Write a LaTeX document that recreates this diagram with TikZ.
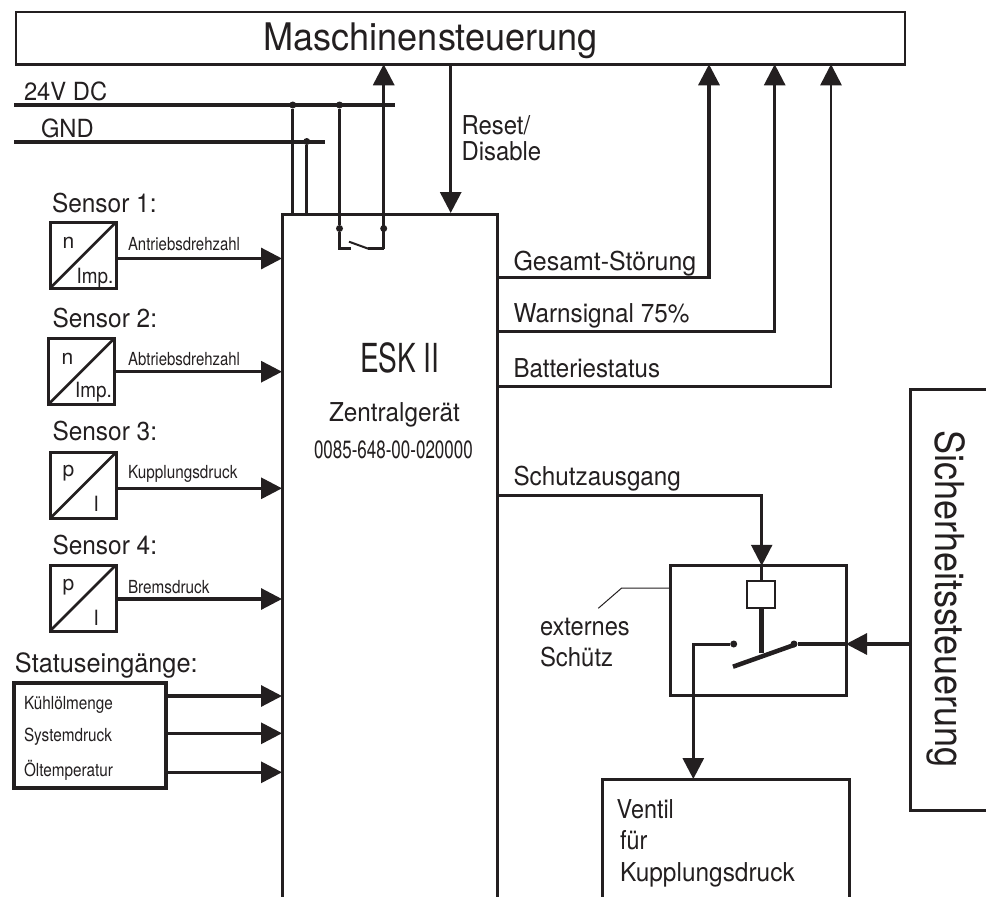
\documentclass[tikz,border=0pt]{standalone}
\usepackage{fontspec}
\setmainfont{TeX Gyre Heros}
\usetikzlibrary{arrows.meta}
\newcommand{\T}[3]{\fontsize{#1}{#1}\selectfont\scalebox{#2}[1]{#3}}
\definecolor{ink}{HTML}{231F20}
\tikzset{
  x=1pt,y=-1pt,
  wire/.style={line width=3.2pt,draw=ink},
  arr/.style={line width=3.2pt,draw=ink,-{Triangle[length=21pt,width=21pt,fill=ink]}},
  arrthin/.style={line width=2.6pt,draw=ink,-{Triangle[length=21pt,width=21pt,fill=ink]}},
  boxn/.style={draw=ink,fill=white,inner sep=0pt,outer sep=0pt},
  sbox/.style={boxn,line width=3pt,minimum width=66pt,minimum height=66pt},
  txt/.style={anchor=base west,inner sep=0pt,outer sep=0pt,text=ink},
  dot/.style={circle,fill=ink,inner sep=0pt,minimum size=7pt},
}
\begin{document}
\begin{tikzpicture}
\useasboundingbox (0,0) rectangle (986,897);

% Maschinensteuerung
\node[boxn,line width=2.5pt,minimum width=889pt,minimum height=52.5pt] (mbox) at (460.5,38) {};
\node[txt] (mtext) at (263.5,50.5) {\T{38}{0.95}{Maschinensteuerung}};

% supply rails
\coordinate (v1) at (14,105); \coordinate (v2) at (395,105);
\coordinate (g1) at (14,142); \coordinate (g2) at (325,142);
\draw[wire] (v1) -- (v2);
\draw[wire] (g1) -- (g2);
\node[txt] (t24) at (24,100) {\T{25}{0.95}{24V DC}};
\node[txt] (tgnd) at (41,137) {\T{25}{0.95}{GND}};

% ESK II main unit (open at the bottom)
\coordinate (eb1) at (282,897); \coordinate (etl) at (282,214);
\coordinate (etr) at (497.5,214); \coordinate (eb2) at (497.5,897);
\draw[line width=3pt,draw=ink] (eb1) -- (etl) -- (etr) -- (eb2);

% supply drops
\node[dot] (j1) at (292.7,105) {};
\node[dot] (j2) at (339.5,105) {};
\node[dot] (j3) at (306.7,141.5) {};
\draw[wire] (j1) -- (j1 |- etl);
\draw[wire] (j3) -- (j3 |- etl);

% internal switch
\node[dot] (sa) at (339.5,228.5) {};
\node[dot] (sb) at (383.7,228.5) {};
\coordinate (sw1) at (350.7,248.7); \coordinate (sw2) at (368.3,248.7);
\draw[wire] (j2) -- (sa) -- (sa |- sw1) -- (sw1);
\draw[line width=2pt,draw=ink] (349,241.7) -- (sw2);
\draw[wire] (sw2) -- (sb |- sw2);
\draw[arr] (sb |- sw2) -- (sb |- mbox.south);

% reset
\coordinate (rst) at (450.7,213);
\draw[arr] (rst |- mbox.south) -- (rst);
\node[txt] (tr) at (461.5,134) {\T{26}{0.92}{Reset/}};
\node[txt] (td) at (461.5,160.7) {\T{26}{0.92}{Disable}};

% sensors
\node[txt] (ts1) at (52,212) {\T{26}{0.94}{Sensor 1:}};
\node[sbox] (s1) at (83.2,255) {};
\draw[line width=2.6pt,draw=ink] (s1.south west) -- (s1.north east);
\node[txt] (s1a) at (62.5,248) {\T{21}{1}{n}};
\node[txt] (s1b) at (76.5,283.5) {\T{21}{0.9}{Imp.}};
\node[txt] (l1) at (128,250.7) {\T{18}{0.83}{Antriebsdrehzahl}};
\coordinate (a1) at (282,258.5);
\draw[arr] (s1.east |- a1) -- (a1);

\node[txt] (ts2) at (52.5,327) {\T{26}{0.94}{Sensor 2:}};
\node[sbox] (s2) at (81.7,371) {};
\draw[line width=2.6pt,draw=ink] (s2.south west) -- (s2.north east);
\node[txt] (s2a) at (61.5,364) {\T{21}{1}{n}};
\node[txt] (s2b) at (75,397) {\T{21}{0.9}{Imp.}};
\node[txt] (l2) at (128,365) {\T{18}{0.83}{Abtriebsdrehzahl}};
\coordinate (a2) at (282,371.7);
\draw[arr] (s2.east |- a2) -- (a2);

\node[txt] (ts3) at (52.5,440) {\T{26}{0.94}{Sensor 3:}};
\node[sbox] (s3) at (83,485.5) {};
\draw[line width=2.6pt,draw=ink] (s3.south west) -- (s3.north east);
\node[txt] (s3a) at (62.5,476.7) {\T{21}{1}{p}};
\node[txt] (s3b) at (93.5,511.7) {\T{21}{0.9}{I}};
\node[txt] (l3) at (128,478) {\T{18}{0.85}{Kupplungsdruck}};
\coordinate (a3) at (282,488.3);
\draw[arr] (s3.east |- a3) -- (a3);

\node[txt] (ts4) at (52.5,554) {\T{26}{0.94}{Sensor 4:}};
\node[sbox] (s4) at (83,598) {};
\draw[line width=2.6pt,draw=ink] (s4.south west) -- (s4.north east);
\node[txt] (s4a) at (62.5,590) {\T{21}{1}{p}};
\node[txt] (s4b) at (93.5,625) {\T{21}{0.9}{I}};
\node[txt] (l4) at (128,593) {\T{18}{0.85}{Bremsdruck}};
\coordinate (a4) at (282,599);
\draw[arr] (s4.east |- a4) -- (a4);

% status inputs
\node[txt] (tstat) at (15,672.7) {\T{26.5}{0.955}{Statuseingänge:}};
\node[boxn,line width=4pt,minimum width=152pt,minimum height=105pt] (stat) at (89.8,735.5) {};
\node[txt] (st1) at (24,709) {\T{18}{0.85}{Kühlölmenge}};
\node[txt] (st2) at (24,741.7) {\T{18}{0.85}{Systemdruck}};
\node[txt] (st3) at (24,776) {\T{18}{0.85}{Öltemperatur}};
\coordinate (b1) at (282,696); \coordinate (b2) at (282,733.3); \coordinate (b3) at (282,772.3);
\draw[arr] (stat.east |- b1) -- (b1);
\draw[arr] (stat.east |- b2) -- (b2);
\draw[arr] (stat.east |- b3) -- (b3);

% centre labels
\node[txt] (tesk) at (360,372) {\T{40}{0.70}{ESK II}};
\node[txt] (tzen) at (329,421) {\T{26}{0.935}{Zentralgerät}};
\node[txt] (tnum) at (314,458) {\T{25}{0.68}{0085-648-00-020000}};

% outputs to Maschinensteuerung
\node[txt] (o1) at (513.5,270.7) {\T{26}{0.96}{Gesamt-Störung}};
\node[txt] (o2) at (513.5,322) {\T{26}{0.935}{Warnsignal 75\%}};
\node[txt] (o3) at (513.5,377) {\T{26}{0.925}{Batteriestatus}};
\node[txt] (o4) at (513.5,485) {\T{26}{0.935}{Schutzausgang}};
\coordinate (c1) at (709,277.7); \coordinate (c2) at (774.7,331.7); \coordinate (c3) at (831,386.7);
\draw[arr] (etr |- c1) -- (c1) -- (c1 |- mbox.south);
\draw[arrthin] (etr |- c2) -- (c2) -- (c2 |- mbox.south);
\draw[arrthin] (etr |- c3) -- (c3) -- (c3 |- mbox.south);

% external contactor
\node[boxn,line width=3pt,minimum width=176pt,minimum height=129.5pt] (kbox) at (758,630.5) {};
\coordinate (k1) at (761.7,495.7);
\draw[arrthin] (etr |- k1) -- (k1) -- (k1 |- kbox.north);
\node[boxn,line width=2.3pt,minimum width=28pt,minimum height=27pt] (coil) at (761,594.5) {};
\draw[wire] (k1 |- kbox.north) -- (k1 |- coil.north);
\coordinate (st) at (761.7,653);
\draw[line width=4.5pt,draw=ink] (k1 |- coil.south) -- (st);
\draw[line width=4.5pt,draw=ink] (733,666.7) -- (794,645);
\node[dot] (ca) at (733.7,644) {};
\node[dot] (cb) at (794,644) {};
\coordinate (vx) at (693.3,644);
\coordinate (vb) at (693.3,779);
\draw[line width=3pt,draw=ink,-{Triangle[length=21pt,width=21pt,fill=ink]}] (ca) -- (vx) -- (vb);
\draw[wire] (cb) -- (kbox.east |- cb);

% leader
\coordinate (lead1) at (598.3,608.3); \coordinate (lead2) at (621.7,588);
\draw[line width=1pt,draw=ink] (lead1) -- (lead2) -- (kbox.west |- lead2);
\node[txt] (te) at (540,635) {\T{26}{0.91}{externes}};
\node[txt] (tsch) at (540,666) {\T{26}{0.92}{Schütz}};

% Ventil (open at the bottom)
\coordinate (vl) at (602.7,897); \coordinate (vtl) at (602.7,779);
\coordinate (vtr) at (849,779); \coordinate (vr) at (849,897);
\draw[line width=3pt,draw=ink] (vl) -- (vtl) -- (vtr) -- (vr);
\node[txt] (tv1) at (616.7,818) {\T{26}{0.90}{Ventil}};
\node[txt] (tv2) at (620,849) {\T{26}{0.90}{für}};
\node[txt] (tv3) at (620,881) {\T{26}{0.94}{Kupplungsdruck}};

% Sicherheitssteuerung (open to the right)
\coordinate (ssa) at (986,389); \coordinate (ssb) at (910,389);
\coordinate (ssc) at (910,810); \coordinate (ssd) at (986,810);
\draw[line width=3pt,draw=ink] (ssa) -- (ssb) -- (ssc) -- (ssd);
\draw[arr] (ssb |- cb) -- (kbox.east |- cb);
\node[txt,rotate=-90] (sich) at (935,430) {\T{40}{0.90}{Sicherheitssteuerung}};
\end{tikzpicture}
\end{document}
